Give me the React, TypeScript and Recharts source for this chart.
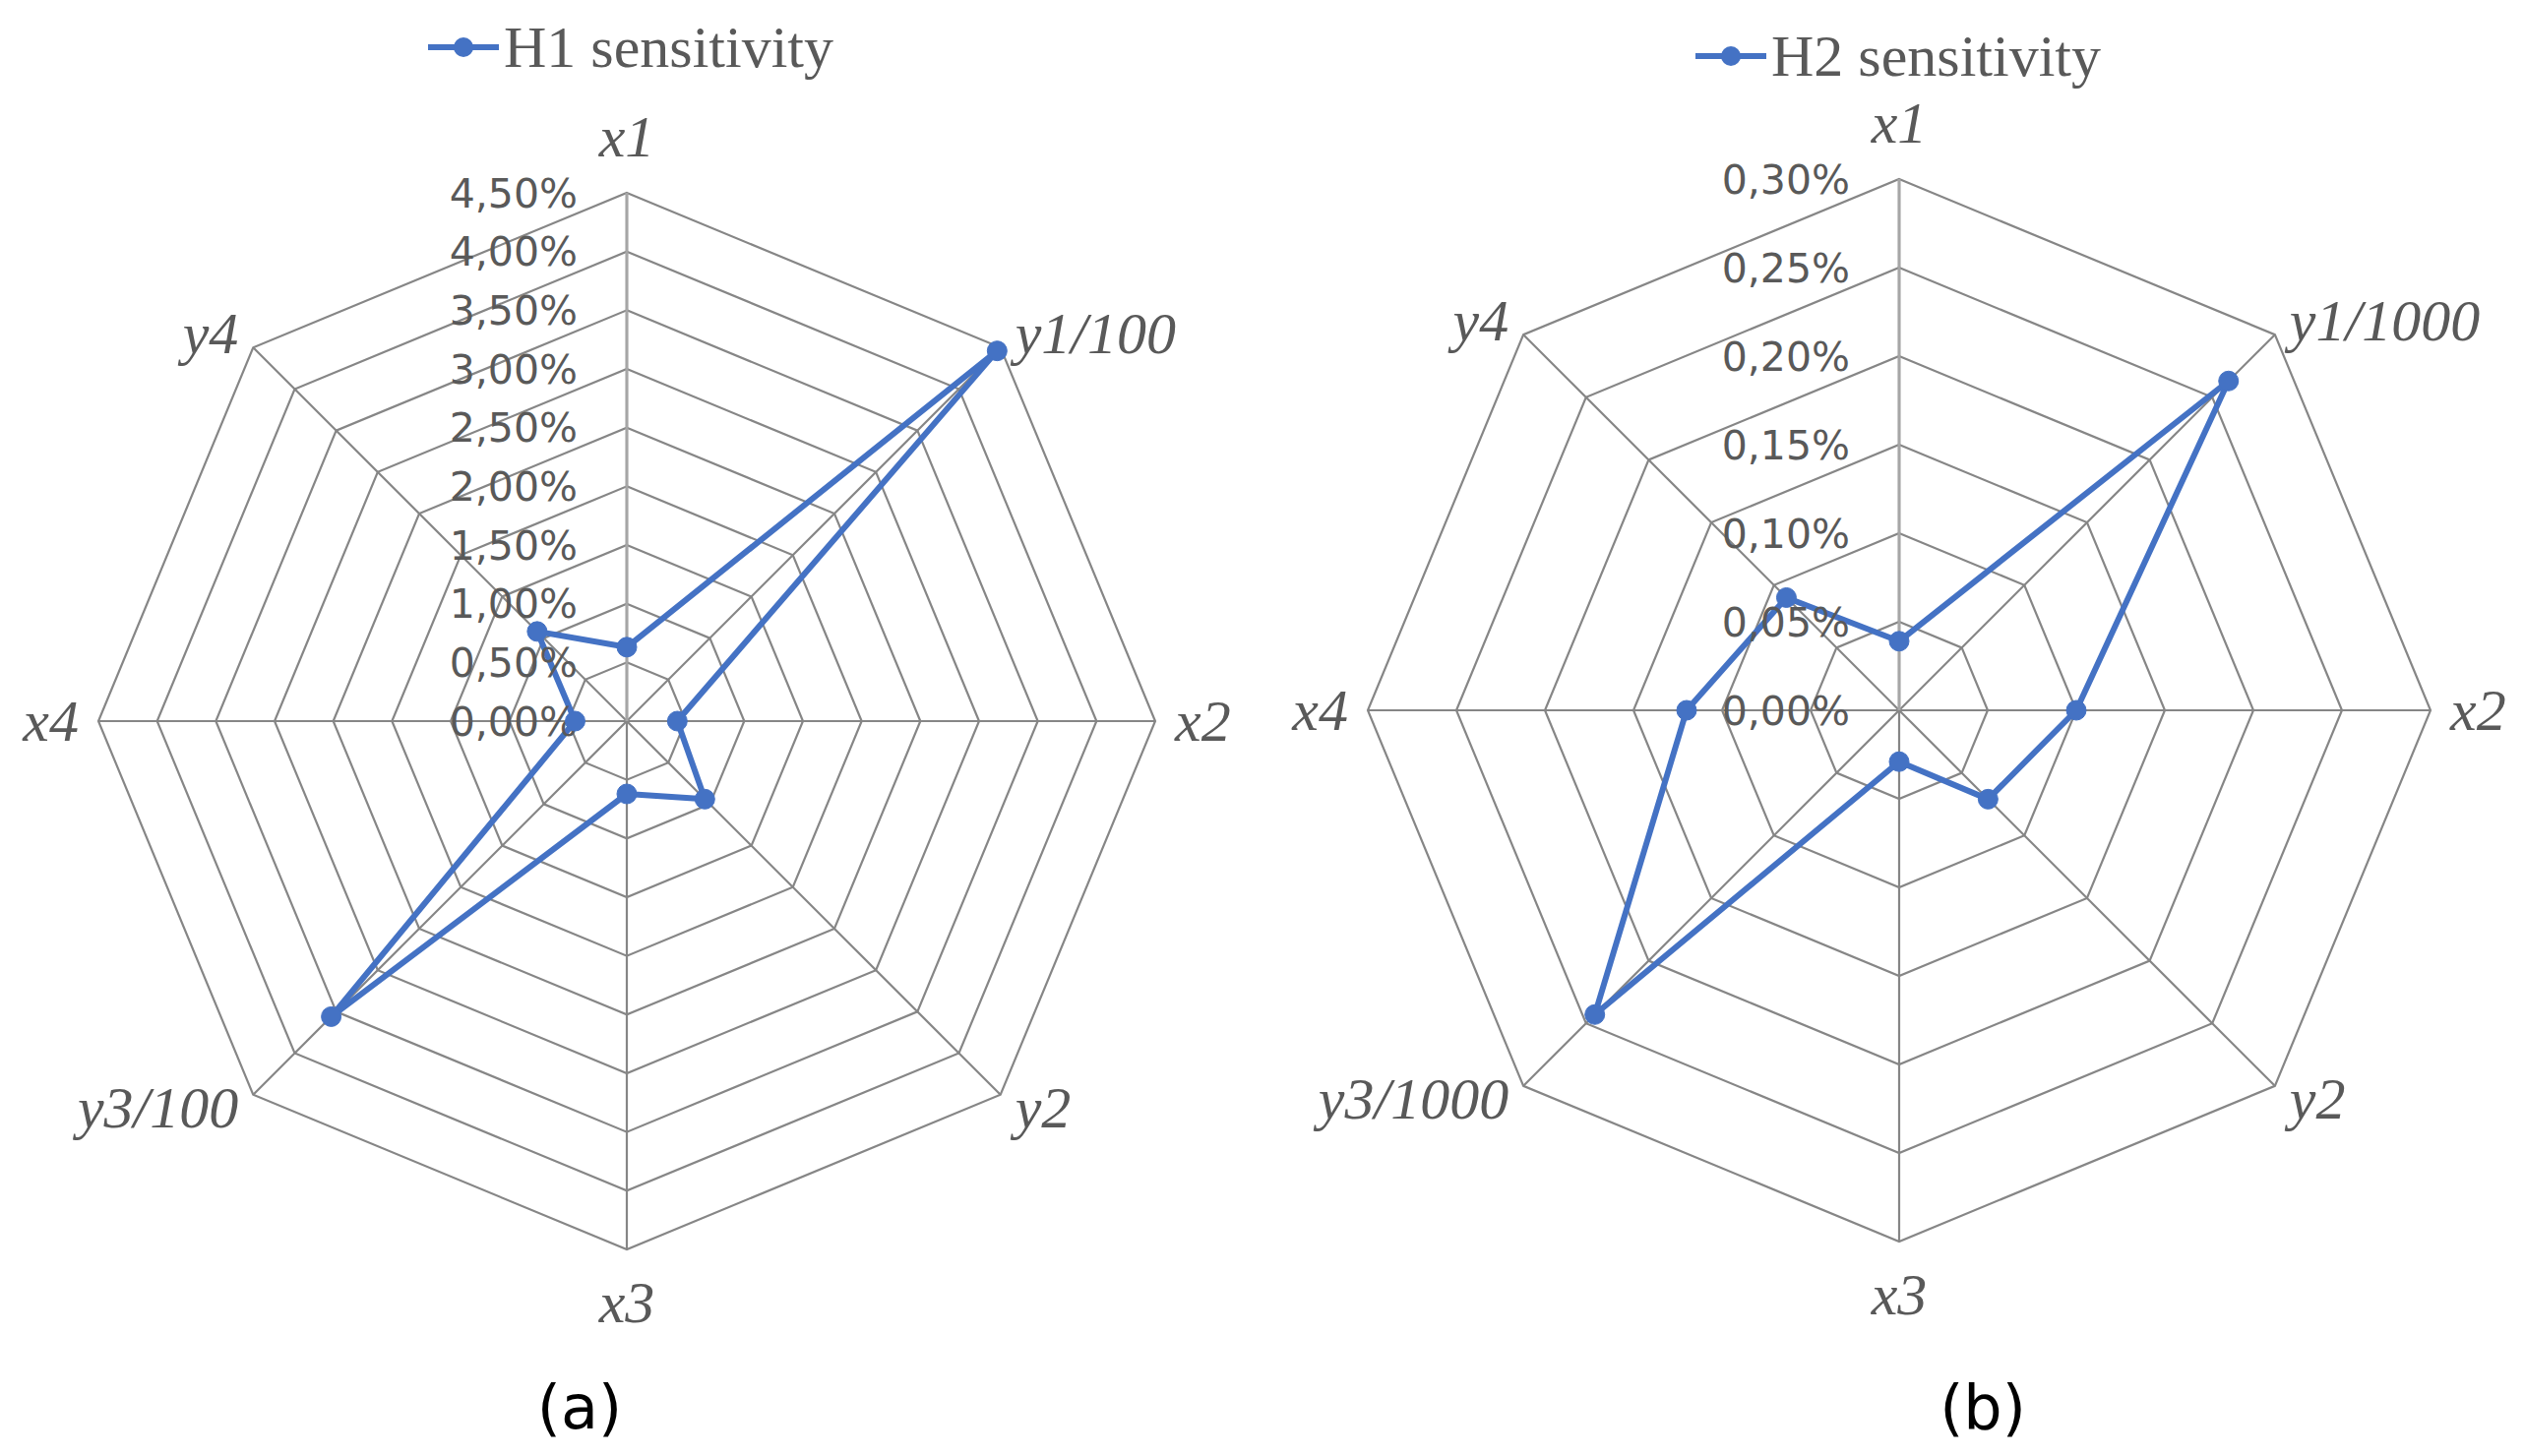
import React from 'react';
import { RadarChart, Radar, PolarGrid, PolarAngleAxis, PolarRadiusAxis, Legend } from 'recharts';

// ---------- data ----------
const H1_NAME = 'H1 sensitivity';
const H1_CATEGORIES = ['x1', 'y1/100', 'x2', 'y2', 'x3', 'y3/100', 'x4', 'y4'];
const H1_VALUES = [0.63, 4.46, 0.43, 0.94, 0.62, 3.56, 0.44, 1.08]; // percent
const H1_TICKS = [0, 0.5, 1, 1.5, 2, 2.5, 3, 3.5, 4, 4.5];

const H2_NAME = 'H2 sensitivity';
const H2_CATEGORIES = ['x1', 'y1/1000', 'x2', 'y2', 'x3', 'y3/1000', 'x4', 'y4'];
const H2_VALUES = [0.039, 0.263, 0.1, 0.071, 0.029, 0.243, 0.12, 0.09]; // percent
const H2_TICKS = [0, 0.05, 0.1, 0.15, 0.2, 0.25, 0.3];

const PANEL_LABELS = ['(a)', '(b)'];

// ---------- style ----------
const BLUE = '#4472C4';
const GREY_TEXT = '#595959';
const GRID = '#868686';
const AXIS = '#a6a6a6';
const SERIF = "'Liberation Serif', 'Times New Roman', serif";
const SANS = "'DejaVu Sans', Verdana, sans-serif";

const fmtPct = (v: number) => v.toFixed(2).replace('.', ',') + '%';

function makeAngleTick(cx: number, cy: number, R: number, n: number) {
  return (props: any) => {
    const { payload, index } = props;
    const ang = 90 - (index * 360) / n;
    const rad = (ang * Math.PI) / 180;
    const c = Math.cos(rad);
    const s = Math.sin(rad);
    const vx = cx + R * c;
    const vy = cy - R * s;
    let x = vx;
    let y = vy;
    let anchor: 'start' | 'middle' | 'end' = 'middle';
    if (Math.abs(c) < 1e-3) {
      y = s > 0 ? vy - 37 : vy + 74;
    } else {
      const horiz = Math.abs(s) < 1e-3;
      const dx = horiz ? 20 : 15;
      x = c > 0 ? vx + dx : vx - dx;
      anchor = c > 0 ? 'start' : 'end';
      y = horiz ? vy + 20 : s > 0 ? vy + 6 : vy + 33;
    }
    return (
      <text
        x={x}
        y={y}
        textAnchor={anchor}
        fontFamily={SERIF}
        fontStyle="italic"
        fontSize={60}
        fill={GREY_TEXT}
      >
        {payload.value}
      </text>
    );
  };
}

const RadiusTick = (props: any) => {
  const { x, y, payload } = props;
  return (
    <text
      x={x - 50}
      y={y}
      dy="0.36em"
      textAnchor="end"
      fontFamily={SANS}
      fontSize={41}
      fill={GREY_TEXT}
    >
      {fmtPct(Number(payload.value))}
    </text>
  );
};

const RadarDot = (props: any) => {
  const { cx, cy, index } = props;
  if (cx == null || cy == null) return <g key={`d-${index}`} />;
  return <circle key={`d-${index}`} cx={cx} cy={cy} r={10} fill={BLUE} stroke={BLUE} strokeWidth={1} />;
};

const RadarShape = (props: any) => {
  const pts: any[] = props.points || [];
  const d = pts.map((p) => `${p.x},${p.y}`).join(' ');
  return (
    <polygon
      points={d}
      fill="none"
      stroke={BLUE}
      strokeWidth={6}
      strokeLinejoin="round"
    />
  );
};

function makeLegend(name: string, lx1: number, lx2: number, ly: number, tx: number, ty: number) {
  return (props: any) => {
    const label = props?.payload?.[0]?.value ?? name;
    return (
      <svg width={1283} height={110} style={{ overflow: 'visible', display: 'block' }}>
        <line x1={lx1} x2={lx2} y1={ly} y2={ly} stroke={BLUE} strokeWidth={6} />
        <circle cx={(lx1 + lx2) / 2} cy={ly} r={10} fill={BLUE} />
        <text x={tx} y={ty} fontFamily={SERIF} fontSize={60} fill={GREY_TEXT}>
          {label}
        </text>
      </svg>
    );
  };
}

type PanelProps = {
  name: string;
  categories: string[];
  values: number[];
  ticks: number[];
  width: number;
  cx: number;
  cy: number;
  R: number;
  legend: (p: any) => React.ReactNode;
};

function Panel({ name, categories, values, ticks, width, cx, cy, R, legend }: PanelProps) {
  const data = categories.map((c, i) => ({ cat: c, value: values[i] }));
  const minTick = ticks[0];
  const maxTick = ticks[ticks.length - 1];
  return (
    <RadarChart
      width={width}
      height={1480}
      data={data}
      cx={cx}
      cy={cy}
      outerRadius={R}
      margin={{ top: 0, right: 0, bottom: 0, left: 0 }}
      startAngle={90}
      endAngle={-270}
    >
      <PolarGrid gridType="polygon" stroke={GRID} strokeWidth={2.2} />
      <PolarAngleAxis
        dataKey="cat"
        tick={makeAngleTick(cx, cy, R, categories.length)}
        tickLine={false}
        axisLine={false}
      />
      <PolarRadiusAxis
        angle={90}
        type="number"
        domain={[minTick, maxTick]}
        allowDataOverflow={true}
        allowDecimals={true}
        tickCount={ticks.length}
        ticks={ticks as any}
        tick={RadiusTick}
        axisLine={{ stroke: AXIS, strokeWidth: 3 }}
      />
      <Radar
        name={name}
        dataKey="value"
        stroke={BLUE}
        strokeWidth={6}
        fill="none"
        fillOpacity={0}
        shape={RadarShape}
        dot={RadarDot}
        isAnimationActive={false}
      />
      <Legend
        verticalAlign="middle"
        align="left"
        layout="horizontal"
        wrapperStyle={{ left: 0, top: 0, width: width, height: 110 }}
        content={legend}
      />
    </RadarChart>
  );
}

export default function App() {
  return (
    <div
      style={{
        position: 'absolute',
        left: 0,
        top: 0,
        width: 2565,
        height: 1480,
        background: '#ffffff',
        overflow: 'hidden',
      }}
    >
      <div style={{ position: 'absolute', left: 0, top: 0 }}>
        <Panel
          name={H1_NAME}
          categories={H1_CATEGORIES}
          values={H1_VALUES}
          ticks={H1_TICKS}
          width={1283}
          cx={637}
          cy={733}
          R={537}
          legend={makeLegend(H1_NAME, 435, 507, 48, 512, 68)}
        />
      </div>
      <div style={{ position: 'absolute', left: 1283, top: 0 }}>
        <Panel
          name={H2_NAME}
          categories={H2_CATEGORIES}
          values={H2_VALUES}
          ticks={H2_TICKS}
          width={1282}
          cx={647}
          cy={722}
          R={540}
          legend={makeLegend(H2_NAME, 440, 512, 57, 517, 77)}
        />
      </div>
      {PANEL_LABELS.map((t, i) => (
        <div
          key={t}
          style={{
            position: 'absolute',
            left: (i === 0 ? 589 : 2015) - 100,
            top: 1431 - 45,
            width: 200,
            height: 90,
            lineHeight: '90px',
            textAlign: 'center',
            fontFamily: SANS,
            fontSize: 62,
            color: '#000000',
          }}
        >
          {t}
        </div>
      ))}
    </div>
  );
}
